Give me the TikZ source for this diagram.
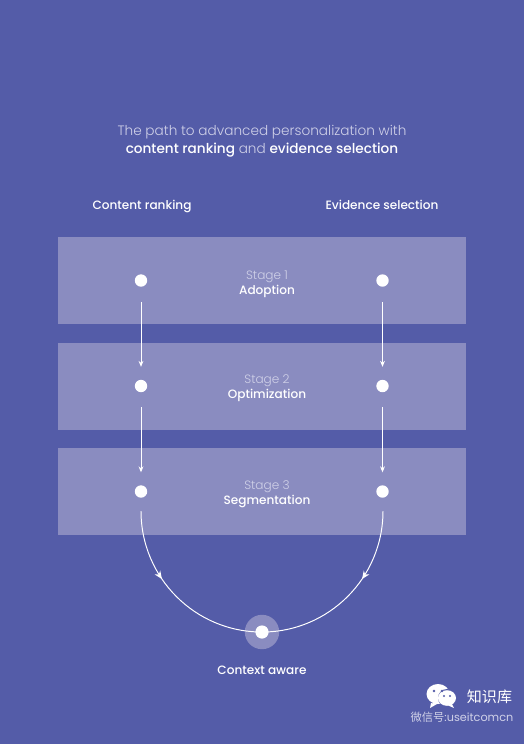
\documentclass[tikz,border=0pt]{standalone}
\usepackage{fontspec}
\setmainfont{Poppins}
\newfontfamily\lightfont{Poppins Light}
\newfontfamily\medfont{Poppins Medium}
\newfontfamily\cjkfont{Noto Sans CJK SC}
\usetikzlibrary{arrows.meta,decorations.markings}
\definecolor{bgblue}{HTML}{545CA8}
\definecolor{bandblue}{HTML}{8A8CC0}
\definecolor{softblue}{HTML}{D0D1E8}
\tikzset{
    path diagram/.style = {>={Stealth[length=1.5mm,width=1.2mm]}, x=0.025cm, y=-0.025cm},
    band/.style         = {fill=bandblue, draw=none, minimum width=10.2cm,
                           minimum height=2.175cm, inner sep=0pt},
    dot/.style          = {circle, fill=white, minimum size=0.31cm, inner sep=0pt},
    halo/.style         = {circle, fill=bandblue, minimum size=0.86cm, inner sep=0pt},
    line/.style         = {white, line width=0.7pt},
    stagelabel/.style   = {align=center, text=softblue, inner sep=0pt,
                           font=\lightfont\fontsize{8.6}{10.6}\selectfont},
    head/.style         = {text=white, inner sep=0pt, anchor=base,
                           font=\medfont\fontsize{8.6}{10}\selectfont},
    midarrow/.style     = {postaction={decorate}, decoration={markings,
                           mark=at position 0.38 with {\arrow{Stealth[length=2mm,width=1.7mm]}}}}
}
\newcommand{\bright}[1]{{\medfont\color{white}#1}}
\begin{document}
\begin{tikzpicture}[path diagram]
\useasboundingbox[fill=bgblue] (0,0) rectangle (524,744);

% ================= Title and column heads =================
\node[align=center, text=softblue, inner sep=0pt,
      font=\lightfont\fontsize{9.7}{12.8}\selectfont] (title) at (262,141)
    {The path to advanced personalization with\\
     \bright{content ranking} and \bright{evidence selection}};
\node[head] (contenthead) at (142,209) {Content ranking};
\node[head] (evidencehead) at (382,209) {Evidence selection};

% ================= Stage bands =================
\node[band] (band1) at (262,280.5) {};
\node[band] (band2) at (262,386.5) {};
\node[band] (band3) at (262,491.5) {};
\node[stagelabel] (stage1) at (267,284.5) {Stage 1\\\bright{Adoption}};
\node[stagelabel] (stage2) at (267,388.5) {Stage 2\\\bright{Optimization}};
\node[stagelabel] (stage3) at (267,494.5) {Stage 3\\\bright{Segmentation}};

% ================= Dots =================
\node[dot] (left1) at (141,280.5) {};
\node[dot] (left2) at (141,386) {};
\node[dot] (left3) at (141,491.5) {};
\node[dot] (right1) at (382.5,280.5) {};
\node[dot] (right2) at (382.5,386) {};
\node[dot] (right3) at (382.5,491.5) {};
\coordinate (leftend) at (141,511);
\coordinate (rightend) at (383,511);

% ================= Arrows =================
\draw[->, line, shorten <=10.5pt, shorten >=9pt] (left1) -- (left2);
\draw[->, line, shorten <=10.5pt, shorten >=9pt] (left2) -- (left3);
\draw[->, line, shorten <=10.5pt, shorten >=9pt] (right1) -- (right2);
\draw[->, line, shorten <=10.5pt, shorten >=9pt] (right2) -- (right3);

% ================= Context aware =================
\node[halo] (halo) at (262,632) {};
\draw[line, midarrow] (leftend) arc[start angle=180, end angle=270, radius=3.025cm];
\draw[line, midarrow] (rightend) arc[start angle=0, end angle=-90, radius=3.025cm];
\node[dot, minimum size=0.33cm] (context) at (262,632) {};
\node[head] (contextlabel) at (262,674) {Context aware};

% ================= Watermark =================
\fill[white] (438,694) ellipse[x radius=11.5, y radius=10] (431,703) -- (430,708) -- (437,704);
\fill[bgblue] (447,698) circle[radius=9];
\fill[white] (447,698) ellipse[x radius=9, y radius=7.8] (452,704) -- (454,708) -- (447,705);
\fill[bgblue] (434,691) circle[radius=1.3] (442,691) circle[radius=1.3]
              (444,696) circle[radius=1.1] (450,696) circle[radius=1.1];
\node[text=white, inner sep=0pt, font=\cjkfont\fontsize{10.7}{12}\selectfont] (brand) at (489.5,697) {知识库};
\node[text=softblue, inner sep=0pt, font=\fontsize{8}{10}\selectfont] (account) at (462,717)
    {{\cjkfont 微信号}:useitcomcn};
\end{tikzpicture}
\end{document}
